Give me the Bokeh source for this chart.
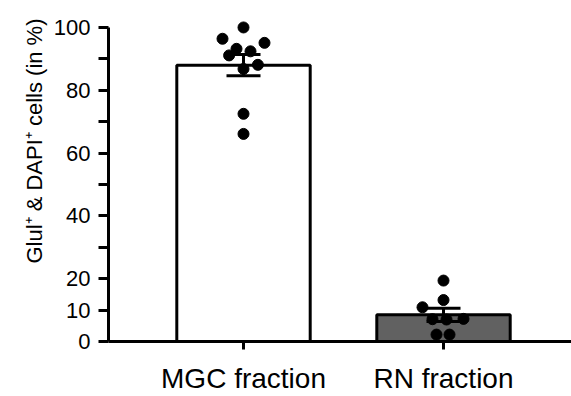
from bokeh.plotting import figure
from bokeh.models import Range1d, FixedTicker, Title
from bokeh.embed import file_html
from bokeh.resources import INLINE

# ---- data ----
categories = ["MGC fraction", "RN fraction"]
bar_means = [88.0, 8.5]
bar_sems = [3.4, 2.1]
bar_colors = ["#ffffff", "#616161"]

mgc_values = [100.0, 96.4, 95.1, 93.2, 92.4, 91.1, 88.1, 86.8, 72.5, 66.1]
mgc_jitter = [0.0, -0.105, 0.105, -0.035, 0.035, -0.072, 0.072, 0.0, 0.0, 0.0]
rn_values = [19.4, 13.2, 10.9, 7.1, 7.0, 7.2, 2.2, 2.2]
rn_jitter = [0.0, 0.0, -0.105, -0.055, 0.015, 0.1, -0.035, 0.03]

y_ticks = [0, 10, 20, 30, 40, 50, 60, 70, 80, 90, 100]
y_labeled = [0, 10, 20, 40, 60, 80, 100]
y_title = "Glul\u207a & DAPI\u207a cells (in %)"

FONT = "Liberation Sans"

p = figure(width=571, height=396, output_backend="svg", toolbar_location=None,
           x_range=Range1d(-0.675, 1.64), y_range=Range1d(0, 105.4),
           min_border_left=108, min_border_right=0, min_border_top=10,
           min_border_bottom=55)
p.outline_line_color = None
p.grid.visible = False
p.background_fill_color = "white"

xs = list(range(len(categories)))

# bars
p.vbar(x=xs, top=bar_means, width=0.667, bottom=0, fill_color=bar_colors,
       line_color="black", line_width=3)

# error bars
cap = 0.085
lo = [m - s for m, s in zip(bar_means, bar_sems)]
hi = [m + s for m, s in zip(bar_means, bar_sems)]
p.segment(x0=xs, y0=lo, x1=xs, y1=hi, line_color="black", line_width=3)
p.segment(x0=[x - cap for x in xs], y0=lo, x1=[x + cap for x in xs], y1=lo,
          line_color="black", line_width=3)
p.segment(x0=[x - cap for x in xs], y0=hi, x1=[x + cap for x in xs], y1=hi,
          line_color="black", line_width=3)

# points
p.scatter(x=[xs[0] + j for j in mgc_jitter], y=mgc_values, size=11,
          fill_color="black", line_color="black")
p.scatter(x=[xs[1] + j for j in rn_jitter], y=rn_values, size=11,
          fill_color="black", line_color="black")

# axes
for ax in (p.xaxis[0], p.yaxis[0]):
    ax.axis_line_width = 3
    ax.axis_line_color = "black"
    ax.major_tick_line_width = 3
    ax.major_tick_line_color = "black"
    ax.minor_tick_line_color = None
    ax.major_tick_in = 0
    ax.major_label_text_font = FONT
    ax.major_label_text_color = "black"

p.yaxis.ticker = FixedTicker(ticks=y_ticks)
p.yaxis.major_label_overrides = {t: (str(t) if t in y_labeled else "") for t in y_ticks}
p.yaxis.bounds = (0, 100)
p.yaxis.major_tick_out = 10
p.yaxis.major_label_standoff = 8
p.yaxis.major_label_text_font_size = "22px"

p.xaxis.ticker = FixedTicker(ticks=xs)
p.xaxis.major_label_overrides = {i: c for i, c in zip(xs, categories)}
p.xaxis.major_tick_out = 8
p.xaxis.major_label_standoff = 13
p.xaxis.major_label_text_font_size = "28px"

# y title (rotated, in the left panel)
p.add_layout(Title(text=y_title, align="right", text_font=FONT,
                   text_font_size="22px", text_font_style="normal",
                   text_color="black", standoff=7, offset=8), "left")

open("out.html", "w").write(file_html(p, INLINE))
